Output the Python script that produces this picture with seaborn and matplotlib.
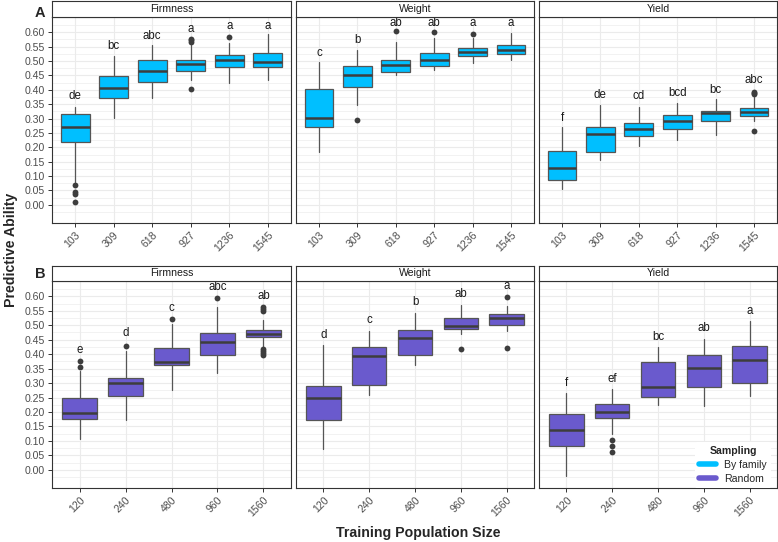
import numpy as np
import pandas as pd
import seaborn as sns
import matplotlib
matplotlib.use("Agg")
import matplotlib.pyplot as plt
from matplotlib.ticker import FixedLocator
from matplotlib.lines import Line2D

# ---------------- data ----------------
traits = ["Firmness", "Weight", "Yield"]
sizes_family = ["103", "309", "618", "927", "1236", "1545"]
sizes_random = ["120", "240", "480", "960", "1560"]
sampling = ["By family", "Random"]

# By family - Firmness
fam_firm_lo = [0.080, 0.303, 0.370, 0.435, 0.423, 0.435]
fam_firm_q1 = [0.218, 0.372, 0.426, 0.467, 0.480, 0.480]
fam_firm_med = [0.272, 0.405, 0.466, 0.488, 0.504, 0.495]
fam_firm_q3 = [0.316, 0.447, 0.503, 0.504, 0.522, 0.527]
fam_firm_hi = [0.340, 0.518, 0.556, 0.555, 0.562, 0.594]
fam_firm_out = [[0.068, 0.045, 0.038, 0.010], [], [], [0.404, 0.565, 0.572, 0.578], [0.584], []]
fam_firm_let = ["de", "bc", "abc", "a", "a", "a"]
fam_firm_let_y = [0.377, 0.553, 0.587, 0.613, 0.622, 0.622]

# By family - Weight
fam_wt_lo = [0.185, 0.347, 0.452, 0.468, 0.492, 0.502]
fam_wt_q1 = [0.270, 0.408, 0.463, 0.481, 0.518, 0.523]
fam_wt_med = [0.302, 0.450, 0.486, 0.503, 0.531, 0.539]
fam_wt_q3 = [0.404, 0.482, 0.505, 0.527, 0.545, 0.555]
fam_wt_hi = [0.495, 0.539, 0.565, 0.579, 0.579, 0.597]
fam_wt_out = [[], [0.295], [0.605], [0.601], [0.594], []]
fam_wt_let = ["c", "b", "ab", "ab", "a", "a"]
fam_wt_let_y = [0.527, 0.573, 0.631, 0.631, 0.631, 0.631]

# By family - Yield
fam_yd_lo = [0.054, 0.156, 0.204, 0.224, 0.243, 0.290]
fam_yd_q1 = [0.088, 0.185, 0.240, 0.262, 0.292, 0.309]
fam_yd_med = [0.127, 0.246, 0.262, 0.290, 0.321, 0.324]
fam_yd_q3 = [0.188, 0.271, 0.284, 0.313, 0.327, 0.338]
fam_yd_hi = [0.269, 0.348, 0.340, 0.353, 0.368, 0.375]
fam_yd_out = [[], [], [], [], [], [0.257, 0.384, 0.388, 0.392]]
fam_yd_let = ["f", "de", "cd", "bcd", "bc", "abc"]
fam_yd_let_y = [0.302, 0.381, 0.378, 0.388, 0.400, 0.433]

# Random - Firmness
rnd_firm_lo = [0.108, 0.173, 0.277, 0.335, 0.425]
rnd_firm_q1 = [0.177, 0.254, 0.362, 0.397, 0.458]
rnd_firm_med = [0.198, 0.301, 0.372, 0.441, 0.470]
rnd_firm_q3 = [0.247, 0.318, 0.420, 0.474, 0.483]
rnd_firm_hi = [0.340, 0.410, 0.504, 0.563, 0.517]
rnd_firm_out = [[0.354, 0.377], [0.429], [0.522], [0.594],
                [0.398, 0.404, 0.410, 0.419, 0.549, 0.556, 0.562]]
rnd_firm_let = ["e", "d", "c", "abc", "ab"]
rnd_firm_let_y = [0.415, 0.473, 0.560, 0.632, 0.602]

# Random - Weight
rnd_wt_lo = [0.072, 0.260, 0.361, 0.468, 0.481]
rnd_wt_q1 = [0.172, 0.293, 0.396, 0.488, 0.502]
rnd_wt_med = [0.250, 0.395, 0.456, 0.498, 0.524]
rnd_wt_q3 = [0.291, 0.425, 0.483, 0.524, 0.539]
rnd_wt_hi = [0.430, 0.480, 0.542, 0.571, 0.565]
rnd_wt_out = [[], [], [], [0.419], [0.422, 0.599]]
rnd_wt_let = ["d", "c", "b", "ab", "a"]
rnd_wt_let_y = [0.467, 0.517, 0.579, 0.609, 0.637]

# Random - Yield
rnd_yd_lo = [-0.020, 0.123, 0.223, 0.220, 0.256]
rnd_yd_q1 = [0.081, 0.178, 0.252, 0.286, 0.300]
rnd_yd_med = [0.136, 0.201, 0.286, 0.352, 0.380]
rnd_yd_q3 = [0.192, 0.227, 0.372, 0.397, 0.428]
rnd_yd_hi = [0.264, 0.280, 0.425, 0.453, 0.516]
rnd_yd_out = [[], [0.063, 0.084, 0.104], [], [], []]
rnd_yd_let = ["f", "ef", "bc", "ab", "a"]
rnd_yd_let_y = [0.299, 0.314, 0.460, 0.490, 0.548]

y_breaks = [0.00, 0.05, 0.10, 0.15, 0.20, 0.25, 0.30, 0.35, 0.40, 0.45, 0.50, 0.55, 0.60]

# ---------------- style ----------------
sns.set_theme(style="whitegrid")
plt.rcParams["font.family"] = ["Liberation Sans", "DejaVu Sans"]

colors = {"By family": "#00BFFF", "Random": "#6A5ACD"}
edge = "#555555"
dark = "#333333"

panels = {
    ("By family", "Firmness"): (fam_firm_lo, fam_firm_q1, fam_firm_med, fam_firm_q3, fam_firm_hi, fam_firm_out, fam_firm_let, fam_firm_let_y),
    ("By family", "Weight"): (fam_wt_lo, fam_wt_q1, fam_wt_med, fam_wt_q3, fam_wt_hi, fam_wt_out, fam_wt_let, fam_wt_let_y),
    ("By family", "Yield"): (fam_yd_lo, fam_yd_q1, fam_yd_med, fam_yd_q3, fam_yd_hi, fam_yd_out, fam_yd_let, fam_yd_let_y),
    ("Random", "Firmness"): (rnd_firm_lo, rnd_firm_q1, rnd_firm_med, rnd_firm_q3, rnd_firm_hi, rnd_firm_out, rnd_firm_let, rnd_firm_let_y),
    ("Random", "Weight"): (rnd_wt_lo, rnd_wt_q1, rnd_wt_med, rnd_wt_q3, rnd_wt_hi, rnd_wt_out, rnd_wt_let, rnd_wt_let_y),
    ("Random", "Yield"): (rnd_yd_lo, rnd_yd_q1, rnd_yd_med, rnd_yd_q3, rnd_yd_hi, rnd_yd_out, rnd_yd_let, rnd_yd_let_y),
}

W, H = 778, 542
fig = plt.figure(figsize=(W / 100, H / 100), dpi=100)
fig.patch.set_facecolor("white")


def fax(x0, y0, x1, y1):
    return fig.add_axes([x0 / W, 1 - y1 / H, (x1 - x0) / W, (y1 - y0) / H])


cols = [(52, 291), (296, 534), (539, 777)]
rows = [(17, 223, 0.5), (281, 488, 266)]

ylim = (-0.063, 0.653)
tick_fs = 7.6

for r, samp in enumerate(sampling):
    cats = sizes_family if samp == "By family" else sizes_random
    n = len(cats)
    ptop, pbot, stop = rows[r]
    for c, trait in enumerate(traits):
        x0, x1 = cols[c]
        ax = fax(x0, ptop, x1, pbot)
        lo, q1, med, q3, hi, out, let, let_y = panels[(samp, trait)]
        stats = [dict(med=med[i], q1=q1[i], q3=q3[i], whislo=lo[i], whishi=hi[i],
                      fliers=out[i], label=cats[i]) for i in range(n)]
        ax.set_facecolor("white")
        ax.set_axisbelow(True)
        ax.bxp(stats, positions=list(range(n)), widths=0.75, patch_artist=True,
               showcaps=False, showfliers=True,
               boxprops=dict(facecolor=colors[samp], edgecolor=edge, linewidth=0.9),
               medianprops=dict(color="#3d3d3d", linewidth=1.8, solid_capstyle="butt"),
               whiskerprops=dict(color=edge, linewidth=0.9),
               flierprops=dict(marker="o", markerfacecolor="#3d3d3d",
                               markeredgecolor="none", markersize=4.2))
        for i in range(n):
            ax.text(i, let_y[i], let[i], ha="center", va="center", fontsize=8.3,
                    color="#1a1a1a")
        ax.set_xlim(-0.6, n - 0.4)
        ax.set_ylim(*ylim)
        ax.yaxis.set_major_locator(FixedLocator(y_breaks))
        ax.yaxis.set_minor_locator(FixedLocator(list(np.arange(-0.025, 0.64, 0.05))))
        ax.set_xticks(list(range(n)))
        ax.set_xticklabels(cats, rotation=45, ha="right", rotation_mode="anchor")
        ax.grid(which="major", axis="both", color="#ebebeb", linewidth=0.8)
        ax.grid(which="minor", axis="y", color="#ebebeb", linewidth=0.45)
        ax.tick_params(axis="both", which="major", direction="out", length=3,
                       width=0.7, color=dark, labelcolor="#4d4d4d", labelsize=tick_fs,
                       pad=2, bottom=True, left=True)
        ax.tick_params(axis="y", which="minor", length=0)
        if c == 0:
            ax.set_yticklabels([f"{v:.2f}" for v in y_breaks])
        else:
            ax.tick_params(axis="y", labelleft=False, left=False)
        for s in ax.spines.values():
            s.set_visible(True)
            s.set_color(dark)
            s.set_linewidth(0.8)
        ax.set_xlabel("")
        ax.set_ylabel("")

        # strip
        sax = fax(x0, stop, x1, ptop)
        sax.set_facecolor("white")
        sax.set_xticks([])
        sax.set_yticks([])
        sax.grid(False)
        for s in sax.spines.values():
            s.set_visible(True)
            s.set_color(dark)
            s.set_linewidth(0.8)
        sax.text(0.5, 0.5, trait, ha="center", va="center", fontsize=7.6,
                 color="#1a1a1a", transform=sax.transAxes)

        if r == 1 and c == 2:
            handles = [Line2D([0], [0], color=colors[s], lw=4) for s in sampling]
            leg = ax.legend(handles, sampling, title="Sampling", loc="lower right",
                            bbox_to_anchor=(0.975, 0.0), frameon=True, fontsize=7.6,
                            title_fontsize=7.6, handlelength=1.6, handletextpad=0.75,
                            borderaxespad=0.0, labelspacing=0.35)
            leg.get_title().set_fontweight("bold")
            leg.get_frame().set_facecolor("white")
            leg.get_frame().set_edgecolor("none")
            leg.get_frame().set_alpha(1)

fig.text(40 / W, 1 - 13 / H, "A", ha="center", va="center", fontsize=10.5,
         fontweight="bold")
fig.text(40 / W, 1 - 274 / H, "B", ha="center", va="center", fontsize=10.5,
         fontweight="bold")
fig.text(11 / W, 1 - 250 / H, "Predictive Ability", rotation=90, ha="center",
         va="center", fontsize=10.2, fontweight="bold")
fig.text(418 / W, 1 - 533 / H, "Training Population Size", ha="center",
         va="center", fontsize=10.2, fontweight="bold")

fig.savefig("out.png", dpi=100, facecolor="white")
